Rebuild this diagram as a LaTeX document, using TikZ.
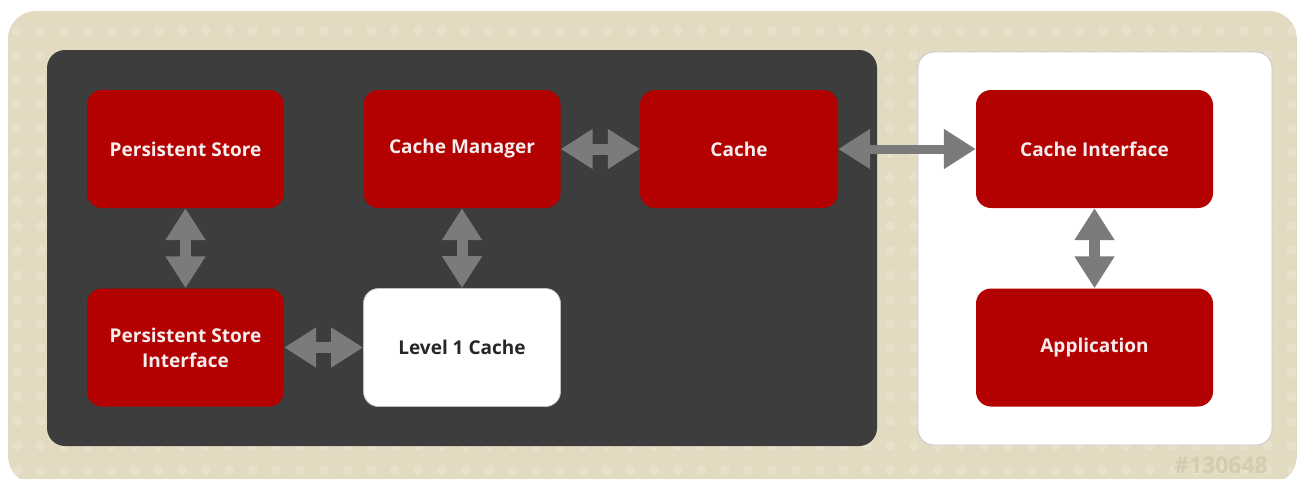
\documentclass[tikz,border=0pt]{standalone}
\usepackage{fontspec}
\setmainfont{Open Sans}
\usetikzlibrary{arrows.meta}

\definecolor{boxred}{HTML}{B30000}
\definecolor{panelgrey}{HTML}{3D3D3D}
\definecolor{arrowgrey}{HTML}{7B7B7B}
\definecolor{beige}{HTML}{E2DBC1}
\definecolor{beigedot}{HTML}{E7E1CC}
\definecolor{beigetext}{HTML}{D4CCB1}
\definecolor{boxtext}{HTML}{F6EEEE}

\tikzset{
  redbox/.style={fill=boxred, rounded corners=15pt, text=boxtext,
    font=\bfseries\fontsize{19}{25}\selectfont, align=center,
    minimum width=197pt, minimum height=118pt, inner sep=0pt},
  whitebox/.style={redbox, fill=white, draw=black!25, line width=0.8pt, text=black!85},
  widebox/.style={redbox, minimum width=237pt},
  fatarrow/.style={arrowgrey, line width=11pt,
    {Triangle[length=32pt,width=38pt]}-{Triangle[length=32pt,width=38pt]}},
}

\begin{document}
\begin{tikzpicture}[x=1pt, y=-1pt]

    \useasboundingbox (0,0) rectangle (1298,479);

    % beige background with its faint dots
    \begin{scope}
      \clip[rounded corners=28pt] (8,11) rectangle (1297,484);
      \fill[beige] (8,11) rectangle (1297,484);
      \foreach \x in {0,...,54} {
        \foreach \y in {0,...,18} {
          \fill[beigedot] (17+23.6*\x, 31+24.4*\y) circle (5pt);
        }
      }
    \end{scope}

    % the two panels
    \fill[panelgrey, rounded corners=18pt] (47,50) rectangle (877,446);
    \filldraw[fill=white, draw=black!22, line width=0.8pt, rounded corners=16pt]
      (918,52) rectangle (1272,445);

    % boxes of the left panel
    \node[redbox] (store) at (185.5,149) {Persistent Store};
    \node[redbox] (manager) at (462,149) {Cache Manager};
    \node[redbox, minimum width=198pt] (cache) at (739,149) {Cache};
    \node[redbox] (storeif) at (185.5,347.5) {Persistent Store\\Interface};
    \node[whitebox] (level) at (462,347.5) {Level 1 Cache};

    % boxes of the right panel
    \node[widebox] (cacheif) at (1094.5,149) {Cache Interface};
    \node[widebox] (app) at (1094.5,347.5) {Application};

    % connectors
    \draw[fatarrow] (store) -- (storeif);
    \draw[fatarrow] (manager) -- (level);
    \draw[fatarrow] (storeif) -- (level);
    \draw[fatarrow] (manager) -- (cache);
    \draw[fatarrow, line width=9pt] (cache) -- (cacheif);
    \draw[fatarrow] (cacheif) -- (app);

    % figure number
    \node[anchor=east, text=beigetext, font=\bfseries\fontsize{23}{26}\selectfont, inner sep=0pt]
      (fignum) at (1268,465.5) {\#130648};

\end{tikzpicture}
\end{document}
